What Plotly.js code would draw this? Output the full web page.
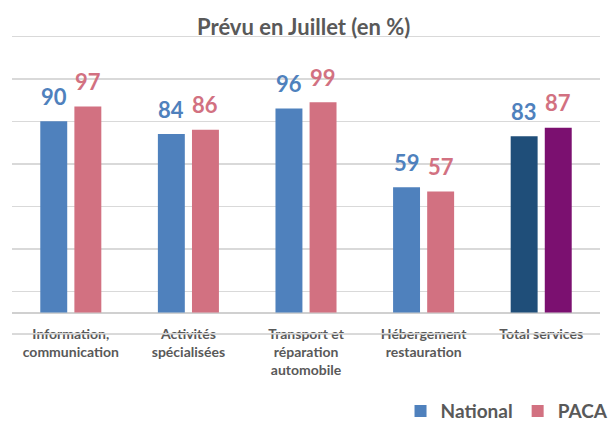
<!DOCTYPE html>
<html>
<head>
<meta charset="utf-8">
<script src="https://cdn.plot.ly/plotly-3.0.1.min.js"></script>
<style>html,body{margin:0;padding:0;background:#fff;}#chart{width:611px;height:425px;}</style>
</head>
<body>
<div id="chart"></div>
<script>
const categories = ["Information,<br>communication", "Activités<br>spécialisées", "Transport et<br>réparation<br>automobile", "Hébergement<br>restauration", "Total services"];
const national = [90, 84, 96, 59, 83];
const paca = [97, 86, 99, 57, 87];
const nationalColors = ["#4F81BD", "#4F81BD", "#4F81BD", "#4F81BD", "#1F4E79"];
const pacaColors = ["#D27181", "#D27181", "#D27181", "#D27181", "#7B1070"];
const seriesNames = ["National", "PACA"];
const labelColors = ["#4F81BD", "#D27181"];
const lowerGridValue = -10;

const font = "Lato, 'Open Sans', sans-serif";
const grey = "#595959";

const traces = [
  {type: "bar", name: seriesNames[0], x: categories, y: national, marker: {color: nationalColors}, hoverinfo: "none"},
  {type: "bar", name: seriesNames[1], x: categories, y: paca, marker: {color: pacaColors}, hoverinfo: "none"}
];

const annotations = [];
[national, paca].forEach((vals, s) => {
  vals.forEach((v, i) => {
    annotations.push({
      x: categories[i], y: v, xref: "x", yref: "y",
      text: "<b>" + v + "</b>", showarrow: false,
      xshift: s === 0 ? -17 : 17, yshift: 25, yanchor: "middle",
      font: {family: font, size: 22, color: labelColors[s]}
    });
  });
});

const layout = {
  width: 611, height: 425,
  margin: {l: 12, r: 11, t: 13, b: 87, autoexpand: false},
  paper_bgcolor: "#ffffff", plot_bgcolor: "rgba(0,0,0,0)",
  title: {text: "<b>Prévu en Juillet (en %)</b>", x: 0.497, xanchor: "center", y: 0.935, yanchor: "middle", yref: "container",
          font: {family: font, size: 22, color: grey}},
  barmode: "group", bargap: 0.42, bargroupgap: 0.21,
  xaxis: {type: "category", showgrid: false, showline: false, ticks: "", ticklabelstandoff: -14, automargin: false,
          tickfont: {family: font, size: 14, color: grey, weight: 700}, fixedrange: true},
  yaxis: {range: [-12, 141], tick0: 10, dtick: 20, showticklabels: false, showgrid: true,
          gridcolor: "#D9D9D9", gridwidth: 1.5, zeroline: true, zerolinecolor: "#D0D0D0", zerolinewidth: 2,
          showline: false, ticks: "", fixedrange: true},
  shapes: [{type: "line", layer: "above", xref: "x domain", x0: 0, x1: 1, yref: "y", y0: lowerGridValue, y1: lowerGridValue,
            line: {color: "#DADADA", width: 1.5}}],
  showlegend: true,
  legend: {orientation: "h", x: 1.023, xanchor: "right", y: -0.225, yanchor: "middle", yref: "paper",
           font: {family: font, size: 19, color: grey, weight: 700}, itemwidth: 30, traceorder: "normal"},
  annotations: annotations
};

Plotly.newPlot("chart", traces, layout, {displayModeBar: false, staticPlot: true});
</script>
</body>
</html>
